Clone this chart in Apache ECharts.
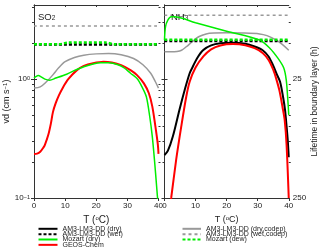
<!DOCTYPE html>
<html><head><meta charset="utf-8">
<script src="https://cdn.jsdelivr.net/npm/echarts@6/dist/echarts.min.js"></script>
<style>html,body{margin:0;padding:0;background:#fff}#c{width:320px;height:252px}</style>
</head><body><div id="c"></div>
<script>
// ---------- DATA ----------
// Temperature ticks (°C)
const xTicks = [0, 10, 20, 30, 40];
// y tick values (vd, cm s-1) and their exponent labels
const yMajorValues = [0.1, 1];
const yMajorExps = ['−1', '0'];
const yMinorValues = [0.2, 0.3, 0.4, 0.5, 0.6, 0.7, 0.8, 0.9, 2, 3, 4];
// right axis: lifetime in boundary layer (h)
const lifetimeLabels = ['250', '25'];

// SO2 panel
const so2GrayWetT = [0, 40];
const so2GrayWetV = [2.8, 2.8];
const so2GrayDryT = [0, 2, 4, 6, 8, 10, 13, 16, 20, 24, 28, 32, 35, 37.5, 39, 40];
const so2GrayDryV = [0.84, 0.86, 0.95, 1.08, 1.25, 1.40, 1.52, 1.59, 1.63, 1.64, 1.60, 1.49, 1.32, 1.12, 0.95, 0.84];
const so2BlackWetT = [0, 40];
const so2BlackWetV = [1.95, 1.95];
const so2GreenDewT = [0, 8, 11, 23, 26, 40];
const so2GreenDewV = [1.96, 1.96, 2.03, 2.03, 1.96, 1.96];
const so2RedT = [0, 1, 2, 3, 3.5, 4.6, 5.4, 6.1, 7, 8, 9.4, 11, 13.8, 16, 19, 22.3, 25, 28, 31, 33.1, 35.3, 36.9, 38, 39, 39.8, 40];
const so2RedV = [0.234, 0.236, 0.245, 0.265, 0.28, 0.34, 0.42, 0.53, 0.63, 0.73, 0.86, 1.0, 1.19, 1.29, 1.36, 1.40, 1.38, 1.31, 1.19, 1.08, 0.92, 0.76, 0.59, 0.40, 0.28, 0.235];
const so2GreenDryT = [0, 0.6, 1.4, 2.4, 3.5, 5, 7, 10.5, 13, 16, 19, 21.5, 24, 27, 29, 31, 33.1, 34.7, 36.1, 37.2, 38, 38.7, 39.4, 39.7, 40];
const so2GreenDryV = [1.02, 1.05, 1.07, 1.04, 1.0, 0.98, 1.02, 1.10, 1.18, 1.27, 1.34, 1.37, 1.37, 1.32, 1.24, 1.12, 1.01, 0.86, 0.71, 0.48, 0.33, 0.21, 0.125, 0.1, 0.085];

// NH3 panel
const nh3GrayWetT = [0, 40];
const nh3GrayWetV = [3.45, 3.45];
const nh3GrayDryT = [0, 2, 4, 5.5, 7, 9, 11, 13.4, 16, 20, 25, 30.6, 33, 36, 38, 40];
const nh3GrayDryV = [1.70, 1.70, 1.71, 1.75, 1.87, 2.07, 2.27, 2.40, 2.44, 2.45, 2.44, 2.40, 2.32, 2.13, 1.95, 1.75];
const nh3BlackWetT = [0, 40];
const nh3BlackWetV = [2.09, 2.09];
const nh3GreenDewT = [0, 40];
const nh3GreenDewV = [2.14, 2.14];
const nh3BlackDryT = [0, 1.1, 2.7, 4.8, 6.5, 8.1, 9.1, 10.5, 12.4, 15, 18, 22, 26, 29, 31.6, 33.5, 35, 36, 37.2, 38.2, 38.8, 39.3, 39.7, 40];
const nh3BlackDryV = [0.23, 0.25, 0.33, 0.55, 0.81, 1.12, 1.27, 1.50, 1.75, 1.92, 2.0, 2.02, 1.98, 1.88, 1.75, 1.55, 1.30, 1.12, 0.95, 0.70, 0.55, 0.40, 0.30, 0.22];
const nh3RedT = [1.6, 2.15, 3.76, 5.4, 7, 8.1, 10, 12.5, 15, 18, 22, 26, 29, 31.6, 33.5, 35, 36, 37, 38, 38.7, 39.3, 40];
const nh3RedV = [0.08, 0.1, 0.21, 0.40, 0.71, 0.95, 1.25, 1.55, 1.78, 1.92, 1.97, 1.93, 1.82, 1.66, 1.45, 1.2, 1.0, 0.8, 0.58, 0.45, 0.28, 0.1];
const nh3GreenDryT = [0, 0.32, 1.07, 2.16, 3.2, 10, 20, 30.6, 33.9, 36.5, 38.4, 39.2, 39.7, 40];
const nh3GreenDryV = [2.13, 2.75, 3.13, 3.34, 3.34, 2.98, 2.53, 2.13, 1.82, 1.5, 1.24, 0.98, 0.67, 0.5];

// ---------- CHART ----------
const FONT = 'Liberation Sans, Arial, sans-serif';
const AX = '#333';
const GREEN = '#00ee00', RED = '#ff0000', GRAY = '#999999', BLACK = '#000000';
const N = {
  dry: 'AM3-LM3-DD (dry)', wet: 'AM3-LM3-DD (wet)', mozDry: 'Mozart (dry)', geos: 'GEOS-Chem',
  dryC: 'AM3-LM3-DD (dry,codep)', wetC: 'AM3-LM3-DD (wet,codep)', mozDew: 'Mozart (dew)'
};
const legendLeftCol = [N.dry, N.wet, N.mozDry, N.geos];
const legendRightCol = [N.dryC, N.wetC, N.mozDew];

function pairs(T, V) { return T.map((t, i) => [t, V[i]]); }
function line(name, T, V, g, color, width, dash, z) {
  return {
    type: 'line', name, xAxisIndex: g * 2, yAxisIndex: g * 4,
    data: pairs(T, V), symbol: 'none', smooth: 0.3, z: z,
    lineStyle: { color, width, type: dash ? dash : 'solid' },
    itemStyle: { color }, animation: false, silent: true
  };
}

function xAxes(g) {
  return [
    { gridIndex: g, type: 'value', position: 'bottom', min: 0, max: 40, interval: 10,
      axisLine: { lineStyle: { color: AX, width: 1 } },
      axisTick: { length: 3, lineStyle: { color: AX } },
      axisLabel: { fontSize: 8, margin: 4, color: '#222', fontFamily: FONT },
      splitLine: { show: false },
      name: 'T ({s|o}C)', nameLocation: 'middle', nameGap: g === 0 ? 14 : 13,
      nameTextStyle: { fontSize: g === 0 ? 10 : 9, color: '#222', fontFamily: FONT,
        rich: { s: { fontSize: 6, verticalAlign: 'top', fontFamily: FONT, color: '#222' } } } },
    { gridIndex: g, type: 'value', position: 'top', min: 0, max: 40, interval: 10,
      axisLine: { lineStyle: { color: AX, width: 1 } },
      axisTick: { length: 2, inside: true, lineStyle: { color: AX }, customValues: [10, 20, 30] },
      axisLabel: { show: false }, splitLine: { show: false } }
  ];
}
function yAx(g, pos, opts) {
  return Object.assign({
    gridIndex: g, type: 'log', logBase: 10, min: 0.1, max: 4.2, position: pos,
    axisLine: { show: true, lineStyle: { color: AX, width: 1 } },
    axisTick: { length: 3, lineStyle: { color: AX }, customValues: yMajorValues },
    axisLabel: { show: false, customValues: yMajorValues },
    splitLine: { show: false }
  }, opts || {});
}
function yMinor(g, pos) {
  return yAx(g, pos, {
    axisLine: { show: false },
    axisTick: { length: 2, lineStyle: { color: AX }, customValues: yMinorValues }
  });
}

const yAxes = [
  // grid 0
  yAx(0, 'left', {
    axisLabel: { show: true, customValues: yMajorValues, margin: 4, color: '#222', fontFamily: FONT,
      formatter: v => { const i = yMajorValues.findIndex(m => Math.abs(m - v) < 1e-9); return i < 0 ? '' : '{b|10}{e|' + yMajorExps[i] + '}'; },
      rich: { b: { fontSize: 8, fontFamily: FONT, color: '#222', verticalAlign: 'bottom' },
              e: { fontSize: 5.5, fontFamily: FONT, color: '#222', verticalAlign: 'top' } } },
    name: 'vd (cm s{s|−1})', nameLocation: 'middle', nameGap: 22, nameRotate: 90,
    nameTextStyle: { fontSize: 9, color: '#222', fontFamily: FONT,
      rich: { s: { fontSize: 6, verticalAlign: 'top', fontFamily: FONT, color: '#222' } } }
  }),
  yAx(0, 'right'),
  yMinor(0, 'left'),
  yMinor(0, 'right'),
  // grid 1
  yAx(1, 'left'),
  yAx(1, 'right', {
    axisLabel: { show: true, customValues: yMajorValues, margin: 4, fontSize: 8, color: '#222', fontFamily: FONT,
      formatter: v => { const i = yMajorValues.findIndex(m => Math.abs(m - v) < 1e-9); return i < 0 ? '' : lifetimeLabels[i]; } },
    name: 'Lifetime in boundary layer (h)', nameLocation: 'middle', nameGap: 17, nameRotate: 90,
    nameTextStyle: { fontSize: 8.5, color: '#222', fontFamily: FONT }
  }),
  yMinor(1, 'left'),
  yMinor(1, 'right')
];

const series = [
  line(N.wetC, so2GrayWetT, so2GrayWetV, 0, GRAY, 1.5, [3, 3], 2),
  line(N.dryC, so2GrayDryT, so2GrayDryV, 0, GRAY, 1.5, null, 3),
  line(N.wet, so2BlackWetT, so2BlackWetV, 0, BLACK, 2.5, [3, 2], 4),
  line(N.mozDew, so2GreenDewT, so2GreenDewV, 0, GREEN, 2.5, [3, 2], 5),
  line(N.geos, so2RedT, so2RedV, 0, RED, 2, null, 6),
  line(N.mozDry, so2GreenDryT, so2GreenDryV, 0, GREEN, 1.5, null, 7),

  line(N.wetC, nh3GrayWetT, nh3GrayWetV, 1, GRAY, 1.5, [3, 3], 2),
  line(N.dryC, nh3GrayDryT, nh3GrayDryV, 1, GRAY, 1.5, null, 3),
  line(N.wet, nh3BlackWetT, nh3BlackWetV, 1, BLACK, 2.5, [3, 2], 4),
  line(N.mozDew, nh3GreenDewT, nh3GreenDewV, 1, GREEN, 2.5, [3, 2], 5),
  line(N.dry, nh3BlackDryT, nh3BlackDryV, 1, BLACK, 2, null, 6),
  line(N.geos, nh3RedT, nh3RedV, 1, RED, 2, null, 7),
  line(N.mozDry, nh3GreenDryT, nh3GreenDryV, 1, GREEN, 1.5, null, 8)
];

const legendText = { fontSize: 7, lineHeight: 6, color: '#222', fontFamily: FONT };
function legendRows(names, left, width) {
  return names.map((name, i) => ({
    data: [name], orient: 'vertical', left: left, top: 225.3 + i * 5.35,
    itemWidth: width, itemHeight: 6, itemGap: 0, padding: 0, selectedMode: false,
    itemStyle: { opacity: 0 }, textStyle: legendText
  }));
}

const option = {
  animation: false,
  backgroundColor: '#fff',
  grid: [
    { left: 34, top: 5, width: 124.5, height: 193 },
    { left: 164.5, top: 5, width: 124.5, height: 193 }
  ],
  title: [
    { text: 'SO{s|2}', left: 38, top: 12, padding: 0,
      textStyle: { fontSize: 9.5, fontWeight: 'normal', color: '#222', fontFamily: FONT,
        rich: { s: { fontSize: 6.5, verticalAlign: 'bottom', fontFamily: FONT, color: '#222' } } } },
    { text: 'NH{s|3}', left: 171, top: 12, padding: 0,
      textStyle: { fontSize: 9.5, fontWeight: 'normal', color: '#222', fontFamily: FONT,
        rich: { s: { fontSize: 6.5, verticalAlign: 'bottom', fontFamily: FONT, color: '#222' } } } }
  ],
  legend: [].concat(legendRows(legendLeftCol, 37.5, 19), legendRows(legendRightCol, 181.5, 18.5)),
  xAxis: [].concat(xAxes(0), xAxes(1)),
  yAxis: yAxes,
  series
};
const chart = echarts.init(document.getElementById('c'), null, { renderer: 'canvas' });
chart.setOption(option);
</script></body></html>
